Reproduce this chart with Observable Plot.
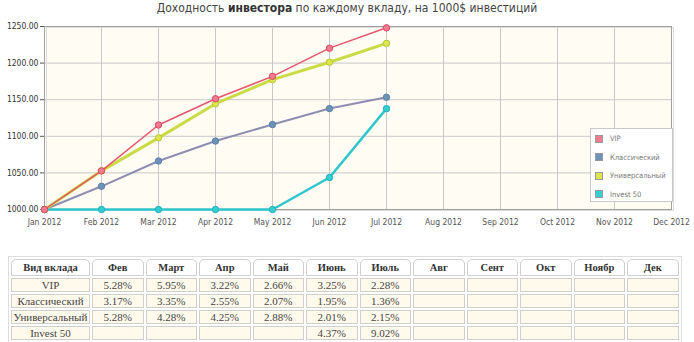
<!DOCTYPE html>
<html>
<head>
<meta charset="utf-8">
<script src="https://cdn.jsdelivr.net/npm/d3@7"></script>
<script src="https://cdn.jsdelivr.net/npm/@observablehq/plot@0.6"></script>
<style>
  html, body { margin: 0; padding: 0; background: #fff; }
  #wrap { position: relative; width: 694px; height: 342px; overflow: hidden; }
  #title { position: absolute; left: 0; top: 1px; width: 694px; text-align: center;
    font-family: "DejaVu Sans Condensed", "DejaVu Sans", sans-serif; font-size: 12px; color: #444; }
  #title b { color: #333; }
  #chart { position: absolute; left: 0; top: 18px; }
  #legend { position: absolute; left: 590px; top: 128px; width: 83px; height: 74px;
    background: #fff; border: 1px solid #c8c8c8; box-sizing: border-box;
    font-family: "DejaVu Sans Condensed", "DejaVu Sans", sans-serif; font-size: 7.5px; color: #777; }
  #legend .row { position: absolute; left: 4px; height: 10px; line-height: 10px; white-space: nowrap; }
  #legend .sw { display: inline-block; width: 8px; height: 8px; vertical-align: middle; margin-right: 7px; border: 1px solid #999; box-sizing: border-box; }
  #tbl { position: absolute; left: 8px; top: 256px; border-collapse: separate; border-spacing: 2px; table-layout: fixed;
    border: 1px solid #ddd; font-family: "Liberation Serif", "DejaVu Serif", serif; font-size: 11px; color: #444; }
  #tbl td, #tbl th { border: 1px solid #cfcfcf; padding: 0; text-align: center; overflow: hidden; white-space: nowrap; }
  #tbl th { font-weight: bold; background: #fff; border-radius: 5px 5px 0 0; height: 15px; line-height: 15px; color: #333; font-size: 10.5px; }
  #tbl td { background: #fffaec; height: 12px; line-height: 12px; }
</style>
</head>
<body>
<div id="wrap">
  <div id="title">Доходность <b>инвестора</b> по каждому вкладу, на 1000$ инвестиций</div>
  <div id="chart"></div>
  <div id="legend"></div>
  <table id="tbl"></table>
</div>
<script>
// ---- data ----
const months = ["Jan 2012","Feb 2012","Mar 2012","Apr 2012","May 2012","Jun 2012","Jul 2012","Aug 2012","Sep 2012","Oct 2012","Nov 2012","Dec 2012"];
const seriesNames = ["VIP","Классический","Универсальный","Invest 50"];
const vip       = [1000, 1052.8, 1115.4, 1151.3, 1181.9, 1220.4, 1248.2];
const classic   = [1000, 1031.7, 1066.3, 1093.5, 1116.1, 1137.9, 1153.4];
const universal = [1000, 1052.8, 1097.9, 1144.5, 1177.5, 1201.2, 1227.0];
const invest50  = [1000, 1000, 1000, 1000, 1000, 1043.7, 1137.8];
const yTicks = [1000, 1050, 1100, 1150, 1200, 1250];

const tableHeader = "Вид вклада";
const tableMonths = ["Фев","Март","Апр","Май","Июнь","Июль","Авг","Сент","Окт","Ноябр","Дек"];
const pctVip       = ["5.28%","5.95%","3.22%","2.66%","3.25%","2.28%"];
const pctClassic   = ["3.17%","3.35%","2.55%","2.07%","1.95%","1.36%"];
const pctUniversal = ["5.28%","4.28%","4.25%","2.88%","2.01%","2.15%"];
const pctInvest50  = ["","","","","4.37%","9.02%"];

// ---- styles ----
const styles = {
  "VIP":           {line: "#e2566e", width: 1.5, fill: "#f27b90", stroke: "#d84862"},
  "Классический":  {line: "#8e8eb2", width: 2,   fill: "#6e93b8", stroke: "#5a80a8"},
  "Универсальный": {line: "#cadb45", width: 3,   fill: "#dde64a", stroke: "#b5c535"},
  "Invest 50":     {line: "#2ec6cc", width: 2.5, fill: "#33cdd3", stroke: "#22b0b8"}
};
const seriesValues = [vip, classic, universal, invest50];
const rows = [];
seriesNames.forEach((name, s) => seriesValues[s].forEach((v, i) => rows.push({series: name, m: i, v})));

const drawOrder = ["Классический","Invest 50","Универсальный","VIP"];
const marks = [
  Plot.frame({fill: "#fffcf3", stroke: null}),
  Plot.gridX(d3.range(months.length), {stroke: "#c8c8c8", strokeOpacity: 1}),
  Plot.gridY(yTicks, {stroke: "#c8c8c8", strokeOpacity: 1}),
  Plot.frame({stroke: "#dcdcdc", dx: 2, dy: 1}),
  Plot.frame({stroke: "#a0a0a0"})
];
for (const name of drawOrder) {
  const st = styles[name];
  const d = rows.filter(r => r.series === name);
  marks.push(Plot.line(d, {x: "m", y: "v", stroke: st.line, strokeWidth: st.width}));
  marks.push(Plot.dot(d, {x: "m", y: "v", r: 3.2, fill: st.fill, stroke: st.stroke, strokeWidth: 1}));
}

const chart = Plot.plot({
  width: 694,
  height: 232,
  marginLeft: 44,
  marginRight: 23,
  marginTop: 8,
  marginBottom: 41,
  style: {fontFamily: "'DejaVu Sans Condensed', 'DejaVu Sans', sans-serif", fontSize: "8.5px", color: "#555", background: "transparent", overflow: "visible"},
  x: {type: "linear", domain: [0, months.length - 1], ticks: d3.range(months.length), tickFormat: i => months[i], tickSize: 0, tickPadding: 9, label: null},
  y: {domain: [1000, 1250], ticks: yTicks, tickFormat: d3.format(".2f"), tickSize: 4, tickPadding: 2, label: null},
  marks
});
document.getElementById("chart").appendChild(chart);
d3.select(chart).selectAll("[aria-label='y-axis tick label'] text").attr("fill", "#333");

// ---- legend ----
const legend = document.getElementById("legend");
seriesNames.forEach((name, i) => {
  const row = document.createElement("div");
  row.className = "row";
  row.style.top = (5 + i * 18.5) + "px";
  const sw = document.createElement("span");
  sw.className = "sw";
  sw.style.background = styles[name].fill;
  row.appendChild(sw);
  row.appendChild(document.createTextNode(name));
  legend.appendChild(row);
});

// ---- table ----
const tbl = d3.select("#tbl");
const headRow = tbl.append("tr");
headRow.append("th").style("width", "77px").text(tableHeader);
tableMonths.forEach(m => headRow.append("th").style("width", "49.5px").text(m));
const pctRows = [pctVip, pctClassic, pctUniversal, pctInvest50];
seriesNames.forEach((name, s) => {
  const tr = tbl.append("tr");
  tr.append("td").text(name);
  tableMonths.forEach((m, i) => tr.append("td").text(pctRows[s][i] || ""));
});
</script>
</body>
</html>
